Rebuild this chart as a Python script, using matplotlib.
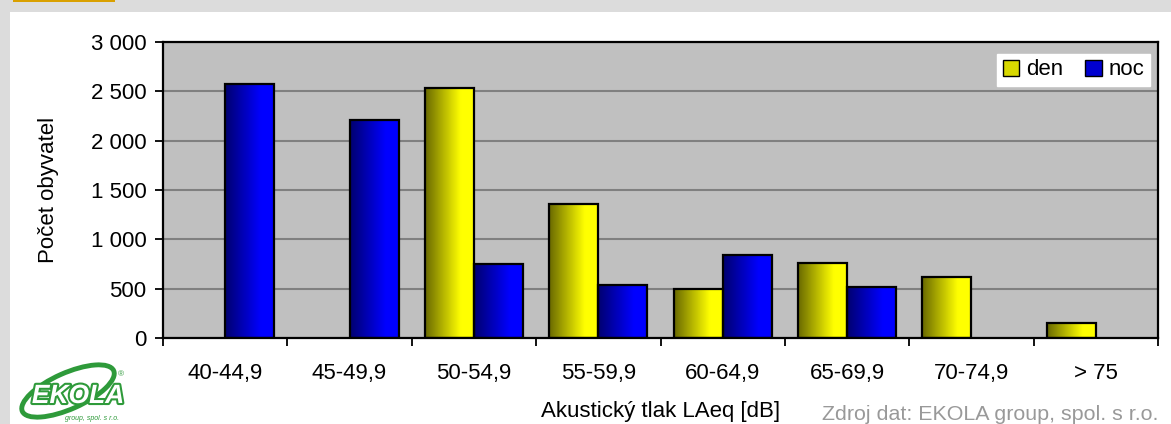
import numpy as np
import matplotlib
matplotlib.use("Agg")
import matplotlib.pyplot as plt
import matplotlib.patheffects as pe
from matplotlib.colors import LinearSegmentedColormap
from matplotlib.patches import Rectangle, Ellipse

plt.rcParams['font.family'] = ['Liberation Sans', 'DejaVu Sans']

categories = ["40-44,9", "45-49,9", "50-54,9", "55-59,9", "60-64,9", "65-69,9", "70-74,9", "> 75"]
den = [0, 0, 2530, 1355, 500, 765, 620, 155]
noc = [2575, 2210, 745, 540, 845, 520, 0, 0]
yticks = [0, 500, 1000, 1500, 2000, 2500, 3000]

W, H = 1171, 424
FS = 16
fig = plt.figure(figsize=(W / 100, H / 100), dpi=100)
fig.patch.set_facecolor('#dcdcdc')

# white panel and orange tab
fig.patches.append(Rectangle((10 / W, 0), 1 - 10 / W, 1 - 12 / H, transform=fig.transFigure,
                             facecolor='white', edgecolor='none', zorder=-2))
fig.patches.append(Rectangle((13 / W, 1 - 2 / H), 102 / W, 2 / H, transform=fig.transFigure,
                             facecolor='#d9a000', edgecolor='none', zorder=-2))

ax = fig.add_axes([163 / W, 1 - 338 / H, 995 / W, 296 / H])
ax.set_facecolor('#c0c0c0')
ax.set_zorder(1)

x = np.arange(len(categories))
w = 0.395
cm_y = LinearSegmentedColormap.from_list('y', [(0, '#6a6a00'), (0.72, '#ffff00'), (1, '#ffff00')])
cm_b = LinearSegmentedColormap.from_list('b', [(0, '#000070'), (0.72, '#0000ff'), (1, '#0000ff')])
grad = np.linspace(0, 1, 64).reshape(1, -1)

bars_d = ax.bar(x - w / 2, den, w, facecolor='none', edgecolor='black', linewidth=1.6, zorder=3)
bars_n = ax.bar(x + w / 2, noc, w, facecolor='none', edgecolor='black', linewidth=1.6, zorder=3)
for bars, cm in ((bars_d, cm_y), (bars_n, cm_b)):
    for b in bars:
        if b.get_height() <= 0:
            b.set_visible(False)
            continue
        im = ax.imshow(grad, cmap=cm, aspect='auto', interpolation='bicubic',
                       extent=(b.get_x(), b.get_x() + b.get_width(), 0, b.get_height()), zorder=2)
        im.set_clip_path(b)

ax.set_xlim(-0.5, len(categories) - 0.5)
ax.set_ylim(0, 3000)
ax.set_yticks(yticks)
ax.set_yticklabels([f"{v:,}".replace(",", " ") for v in yticks])
ax.yaxis.grid(True, color='#808080', linewidth=1.5)
ax.set_axisbelow(True)

ax.set_xticks(np.arange(-0.5, len(categories), 1.0))
ax.set_xticklabels([])
ax.set_xticks(x, minor=True)
ax.set_xticklabels(categories, minor=True)
ax.tick_params(axis='x', which='minor', length=0, pad=18, labelsize=FS)
ax.tick_params(axis='x', which='major', length=6, width=1.3, direction='out')
ax.tick_params(axis='y', length=6, width=1.3, direction='out', labelsize=FS, pad=6)
for s in ax.spines.values():
    s.set_linewidth(1.6)
    s.set_color('black')

ax.set_xlabel("Akustický tlak LAeq [dB]", fontsize=FS, labelpad=12)
ax.set_ylabel("Počet obyvatel", fontsize=FS, labelpad=23)

# legend
ax.legend([Rectangle((0, 0), 1, 1, facecolor='#d8d800', edgecolor='black'),
           Rectangle((0, 0), 1, 1, facecolor='#0000d0', edgecolor='black')],
          ['den', 'noc'], loc='upper right', bbox_to_anchor=(0.992, 0.96), ncol=2,
          frameon=True, fancybox=False, framealpha=1, edgecolor='white', facecolor='white',
          fontsize=FS, handlelength=0.75, handleheight=0.75, handletextpad=0.3,
          columnspacing=1.0, borderpad=0.25, borderaxespad=0)

# source
fig.text(1158 / W, 1 - 414 / H, "Zdroj dat: EKOLA group, spol. s r.o.", ha='right', va='center',
         fontsize=15.4, color='#999999')

# logo approximation
lax = fig.add_axes([18 / W, 1 - 423 / H, 110 / W, 63 / H])
lax.set_zorder(1)
lax.set_xlim(0, 110)
lax.set_ylim(0, 63)
lax.axis('off')
lax.add_patch(Ellipse((50, 32), 100, 36, angle=24, facecolor='none', edgecolor='#2e9a3a', linewidth=3.5))
lax.text(60, 27, "EKOLA", ha='center', va='center', fontsize=19, fontweight='bold', style='italic',
         color='white', path_effects=[pe.withStroke(linewidth=3, foreground='#2e9a3a')])
lax.text(74, 5, "group, spol. s r.o.", ha='center', va='center', fontsize=5, color='#2e9a3a', style='italic')
lax.text(103, 48, "®", ha='center', va='center', fontsize=6, color='#2e9a3a')

fig.savefig("out.png", dpi=100, facecolor=fig.get_facecolor())
